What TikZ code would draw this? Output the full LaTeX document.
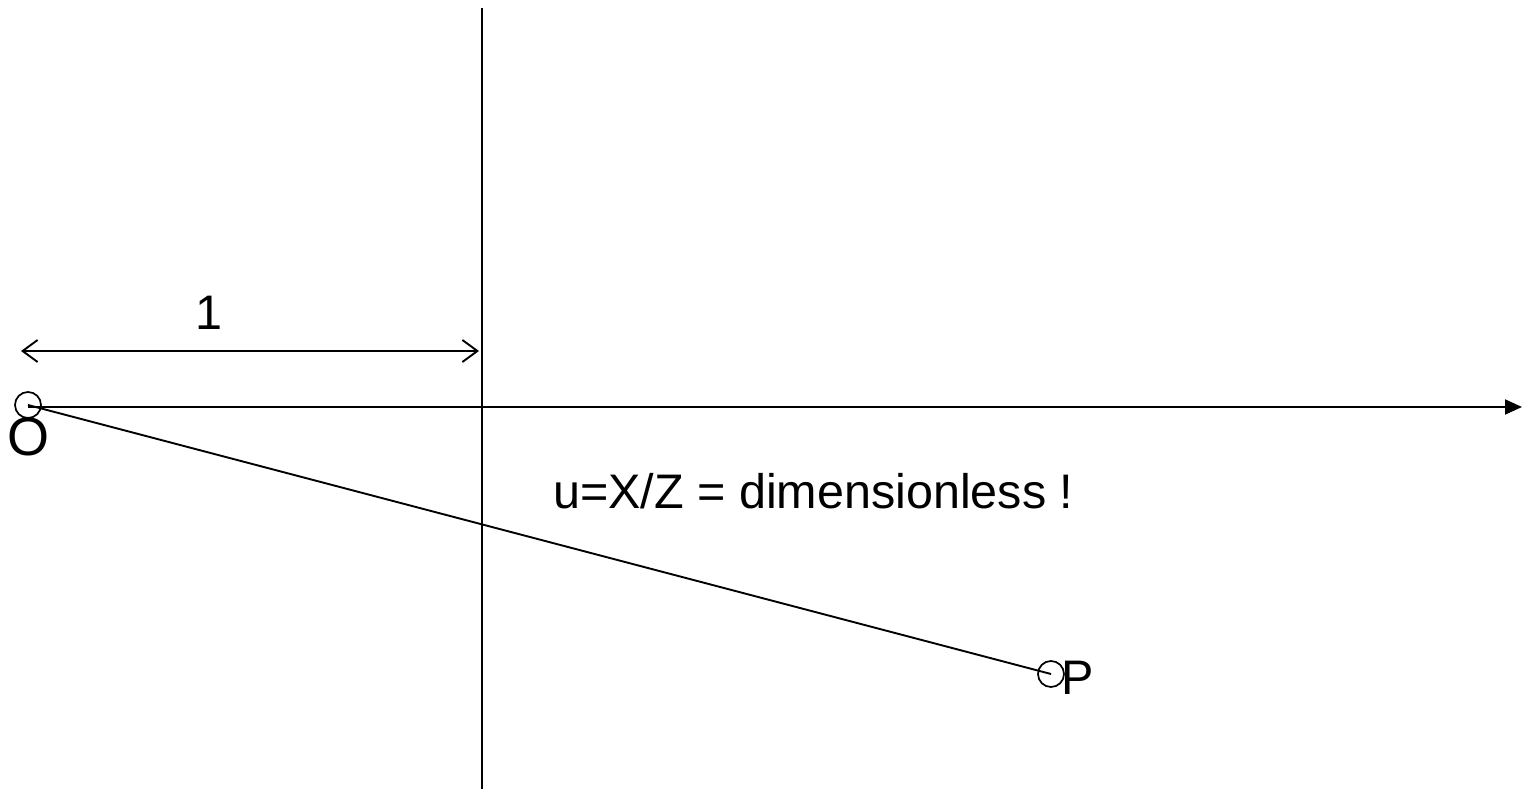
\documentclass[tikz,border=0pt]{standalone}
\usepackage{fontspec}
\setmainfont{Liberation Sans}
\usetikzlibrary{arrows.meta}
\begin{document}
\begin{tikzpicture}[x=1pt,y=-1pt,
  ln/.style={line width=1.9pt},
  pt/.style={circle,draw,line width=1.7pt,minimum size=26pt,inner sep=0pt},
  lbl/.style={inner sep=0pt,anchor=base west,font=\fontsize{48.5}{52}\selectfont},
]
\useasboundingbox (0,0) rectangle (1529,789);
% vertical line
\coordinate (vt) at (482,8);
\coordinate (vb) at (482,789);
\draw[ln] (vt) -- (vb);
% points
\node[pt] (Oc) at (28,405) {};
\node[pt] (Pc) at (1051,674) {};
% horizontal axis
\coordinate (ax) at (1522,407);
\draw[ln,-{Triangle[length=17pt,width=15pt]}] (Oc.center |- ax) -- (ax);
% ray
\draw[ln] (Oc.center) -- (Pc.center);
% unit arrow
\coordinate (ul) at (21,351);
\coordinate (ur) at (479,351);
\draw[ln,{Straight Barb[length=15pt,width=22pt,line width=1.9pt]}-{Straight Barb[length=15pt,width=22pt,line width=1.9pt]}] (ul) -- (ur);
% labels
\node[lbl] (one) at (195,329) {1};
\node[lbl,font=\fontsize{54}{58}\selectfont] (O) at (7,455) {O};
\node[lbl] (P) at (1061,694) {P};
\node[lbl] (u) at (553,508) {u=X/Z = dimensionless !};
\end{tikzpicture}
\end{document}
